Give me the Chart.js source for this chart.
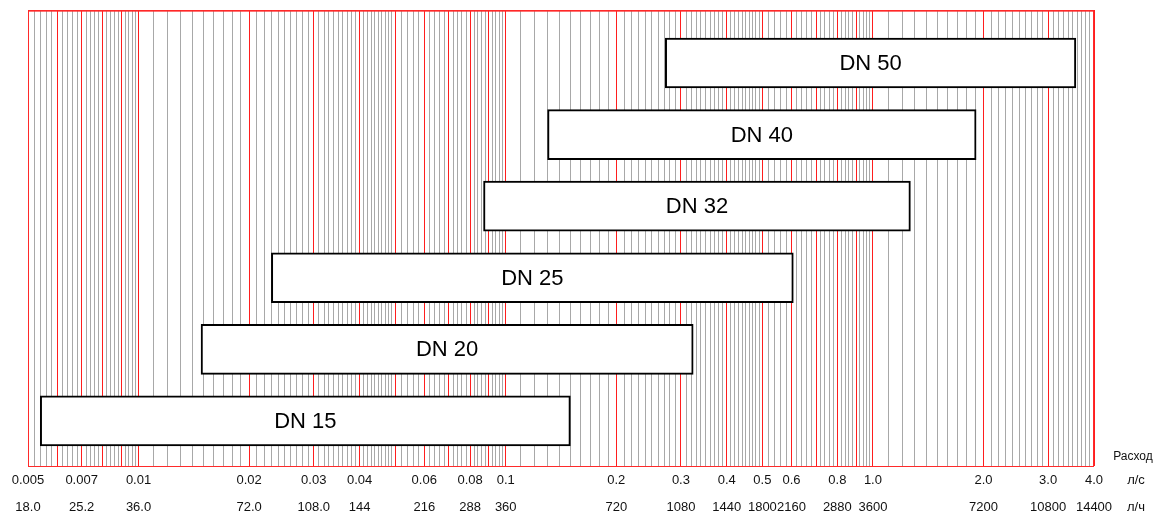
<!DOCTYPE html>
<html>
<head>
<meta charset="utf-8">
<script src="https://cdn.jsdelivr.net/npm/chart.js@4"></script>
<style>
    body { margin: 0; background: #fff; }
    #wrap { position: relative; width: 1157px; height: 515px; }
</style>
</head>
<body>
<div id="wrap"><canvas id="flow-chart"></canvas></div>
<script>
// meter sizes and their flow ranges, л/с
const sizes = ['DN 15', 'DN 20', 'DN 25', 'DN 32', 'DN 40', 'DN 50']
const flowMin = [0.0054, 0.0148, 0.023, 0.087, 0.13, 0.272]
const flowMax = [0.15, 0.324, 0.607, 1.265, 1.91, 3.57]

// labelled ticks: л/с and the same in л/ч
const labelValues = [0.005, 0.007, 0.01, 0.02, 0.03, 0.04, 0.06, 0.08, 0.1, 0.2, 0.3, 0.4, 0.5, 0.6, 0.8, 1, 2, 3, 4]
const lsLabels = ['0.005', '0.007', '0.01', '0.02', '0.03', '0.04', '0.06', '0.08', '0.1', '0.2', '0.3', '0.4', '0.5', '0.6', '0.8', '1.0', '2.0', '3.0', '4.0']
const lhLabels = ['18.0', '25.2', '36.0', '72.0', '108.0', '144', '216', '288', '360', '720', '1080', '1440', '1800', '2160', '2880', '3600', '7200', '10800', '14400']

// red grid lines
const majorLines = [0.005, 0.006, 0.007, 0.008, 0.009, 0.01, 0.02, 0.03, 0.04, 0.05, 0.06, 0.07, 0.08, 0.09,
    0.1, 0.2, 0.3, 0.4, 0.5, 0.6, 0.7, 0.8, 0.9, 1, 2, 3, 4]
// grey grid lines: [from, to, step]
const gridSteps = [
    [0.005, 0.01, 0.0002],
    [0.01, 0.05, 0.001],
    [0.05, 0.1, 0.002],
    [0.1, 0.5, 0.01],
    [0.5, 1, 0.02],
    [1, 4, 0.1]
]

function buildGridValues() {
    let vals = []
    for (const [a, b, s] of gridSteps) {
        const n = Math.round((b - a) / s)
        for (let i = 0; i <= n; i++) {
            const v = +(a + i * s).toFixed(6)
            if (!vals.length || Math.abs(vals[vals.length - 1] - v) > 1e-9) vals.push(v)
        }
    }
    return vals
}

function findIndex(list, v) {
    for (let i = 0; i < list.length; i++) {
        if (Math.abs(list[i] - v) < 1e-9) return i
    }
    return -1
}

const gridValues = buildGridValues()

const barLabels = {
    id: 'barLabels',
    afterDatasetsDraw(chart) {
        const ctx = chart.ctx
        const meta = chart.getDatasetMeta(0)
        ctx.save()
        ctx.font = '22px "Liberation Sans", Arial, sans-serif'
        ctx.fillStyle = '#000'
        ctx.textAlign = 'center'
        ctx.textBaseline = 'middle'
        meta.data.forEach((el, i) => {
            ctx.fillText(sizes[i], (el.x + el.base) / 2, el.y + 1)
        })
        ctx.restore()
    }
}

const frame = {
    id: 'frame',
    afterDraw(chart) {
        const ctx = chart.ctx
        const a = chart.chartArea
        ctx.save()
        ctx.strokeStyle = '#ff2a2a'
        ctx.lineWidth = 1
        ctx.strokeRect(Math.round(a.left) + 0.5, Math.round(a.top) + 0.5,
            Math.round(a.right - a.left) - 1, Math.round(a.bottom - a.top))
        ctx.strokeStyle = 'rgba(255, 40, 40, 0.65)'
        ctx.lineWidth = 2
        ctx.beginPath()
        ctx.moveTo(a.left, Math.round(a.top) + 1)
        ctx.lineTo(a.right, Math.round(a.top) + 1)
        ctx.stroke()

        // axis captions on the right
        ctx.fillStyle = '#111'
        ctx.textAlign = 'center'
        ctx.textBaseline = 'middle'
        ctx.font = '12px "Liberation Sans", Arial, sans-serif'
        ctx.fillText('Расход', a.right + 39, a.bottom - 9)
        ctx.font = '13px "Liberation Sans", Arial, sans-serif'
        ctx.fillText('л/с', a.right + 42, a.bottom + 14)
        ctx.fillText('л/ч', a.right + 42, a.bottom + 41)
        ctx.restore()
    }
}

Chart.defaults.font.family = '"Liberation Sans", Arial, sans-serif'

const config = {
    type: 'bar',
    data: {
        datasets: [{
            data: sizes.map((s, i) => ({ x: [flowMin[i], flowMax[i]], y: i + 1 })),
            backgroundColor: '#fff',
            borderColor: '#000',
            borderWidth: 2,
            borderSkipped: false,
            barThickness: 50
        }]
    },
    options: {
        indexAxis: 'y',
        responsive: true,
        maintainAspectRatio: false,
        animation: false,
        layout: { padding: { left: 28, right: 63, top: 10, bottom: 0 } },
        plugins: {
            legend: { display: false },
            tooltip: { enabled: false }
        },
        scales: {
            x: {
                type: 'logarithmic',
                min: 0.005,
                max: 4,
                afterBuildTicks(scale) {
                    scale.ticks = gridValues.map(v => ({ value: v }))
                },
                afterFit(scale) {
                    scale.height = 49
                },
                border: { display: false },
                grid: {
                    drawTicks: false,
                    lineWidth: 1,
                    color: (c) => (c.tick && findIndex(majorLines, c.tick.value) >= 0) ? '#ff1e1e' : '#a8a8a8'
                },
                ticks: {
                    autoSkip: false,
                    maxRotation: 0,
                    minRotation: 0,
                    padding: 1,
                    color: '#111',
                    font: { size: 13, lineHeight: 2.05 },
                    callback: function (value) {
                        const i = findIndex(labelValues, value)
                        return i >= 0 ? [lsLabels[i], lhLabels[i]] : ''
                    }
                }
            },
            y: {
                type: 'linear',
                display: false,
                offset: false,
                min: 0.37,
                max: 6.74
            }
        }
    },
    plugins: [barLabels, frame]
}

new Chart(document.querySelector('#flow-chart'), config)
</script>
</body>
</html>
